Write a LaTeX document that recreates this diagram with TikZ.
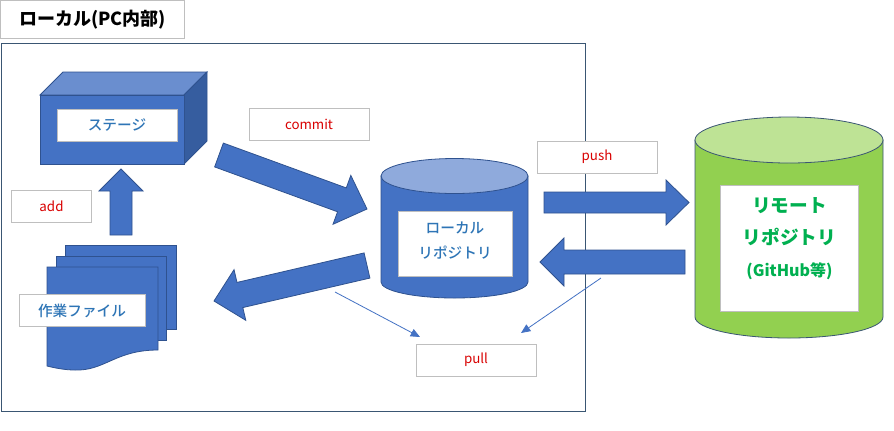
\documentclass[tikz,border=0pt]{standalone}
\usepackage{fontspec}
\usepackage{xcolor}
\usepackage{tikz}
\setmainfont{Noto Sans CJK JP}
\newfontface\medjp{Noto Sans CJK JP Medium}
\usetikzlibrary{calc,positioning,arrows.meta}
\definecolor{shapeblue}{HTML}{4472C4}
\definecolor{edgeblue}{HTML}{2F528F}
\definecolor{topblue}{HTML}{6A8ECF}
\definecolor{sideblue}{HTML}{365D9F}
\definecolor{capblue}{HTML}{8FAADC}
\definecolor{textblue}{HTML}{2E75B6}
\definecolor{shapegreen}{HTML}{92D050}
\definecolor{capgreen}{HTML}{BEE395}
\definecolor{textgreen}{HTML}{00B050}
\definecolor{framecolor}{HTML}{3A5673}
\definecolor{boxgray}{HTML}{BFBFBF}
\tikzset{
    labelbox/.style={
        rectangle,
        draw=boxgray, line width=0.75pt,
        fill=white,
        minimum height=24pt,
        inner sep=0pt,
        align=center
    },
    cmdbox/.style={
        labelbox,
        text=red!85!black,
        minimum width=90pt,
        font={\fontsize{10pt}{11}\selectfont}
    },
    namebox/.style={
        labelbox,
        text=textblue,
        font={\fontsize{11pt}{19}\selectfont\medjp}
    },
    blockshape/.style={draw=edgeblue, fill=shapeblue, line width=0.6pt},
    thinline/.style={draw=shapeblue, line width=0.6pt, -{Triangle[length=7pt,width=6pt]}},
}
% from, to, half shaft, half head, head length (all in px)
\newcommand{\blockarrow}[5]{
    \coordinate (hb) at ($(#2)!#5*0.75pt!(#1)$);
    \draw[blockshape] ($(#1)!#3*0.75pt!90:(#2)$) -- ($(hb)!#3*0.75pt!90:(#2)$)
        -- ($(hb)!#4*0.75pt!90:(#2)$) -- (#2)
        -- ($(hb)!#4*0.75pt!-90:(#2)$) -- ($(hb)!#3*0.75pt!-90:(#2)$)
        -- ($(#1)!#3*0.75pt!-90:(#2)$) -- cycle;
}
\begin{document}
\begin{tikzpicture}[x=0.75pt,y=-0.75pt]
    \useasboundingbox (0,0) rectangle (894,430);
    \fill[white] (0,0) rectangle (894,430);

    % Title and frame
    \node[labelbox, minimum width=137.5pt, minimum height=28pt,
          font={\fontsize{13.5pt}{16}\selectfont\bfseries}] (title) at (92.5,19.5) {ローカル(PC内部)};
    \draw[framecolor, line width=0.65pt] (1,43.5) rectangle (585,411);

    % Stage box
    \draw[blockshape, fill=topblue] (40,95) -- (63,72) -- (207,72) -- (184,95) -- cycle;
    \draw[blockshape, fill=sideblue] (184,95) -- (207,72) -- (207,141) -- (184,164) -- cycle;
    \draw[blockshape] (40,95) rectangle (184,164);
    \node[namebox, minimum width=90pt] (stage) at (117,125) {ステージ};

    % Working files
    \draw[blockshape] (65,245) rectangle (176,329);
    \draw[blockshape] (56,256) rectangle (166,340);
    \draw[blockshape] (47,267) -- (158,267) -- (158,350)
        .. controls (115,350) and (105,371) .. (75,370)
        .. controls (65,370) and (55,368) .. (47,366) -- cycle;
    \node[namebox, minimum width=94.5pt] (files) at (82,310.5) {作業ファイル};

    % Local repository
    \draw[blockshape] (381,176) -- (381,282) arc[start angle=180, end angle=0, x radius=73.5, y radius=16] -- (528,176) -- cycle;
    \draw[blockshape, fill=capblue] (454.5,176) ellipse[x radius=73.5, y radius=17.5];
    \node[namebox, minimum width=85.5pt, minimum height=48.75pt] (localrepo) at (455,243.5) {ローカル\\リポジトリ\rule[-5pt]{0pt}{0pt}};

    % Remote repository
    \draw[blockshape, draw=framecolor, fill=shapegreen] (695,140) -- (695,317) arc[start angle=180, end angle=0, x radius=94, y radius=21] -- (883,140) -- cycle;
    \draw[blockshape, draw=framecolor, fill=capgreen] (789,140) ellipse[x radius=94, y radius=23];
    \node[namebox, text=textgreen, minimum width=104pt, minimum height=95pt,
          font={\fontsize{14pt}{24}\selectfont\bfseries}] (remoterepo) at (789.5,248.5)
        {リモート\\リポジトリ\\{\fontsize{12pt}{24}\selectfont (GitHub等)\rule[-17pt]{0pt}{0pt}}};

    % Command labels
    \node[cmdbox, minimum width=60.5pt] (add) at (51.5,206) {add};
    \node[cmdbox] (commit) at (309,124) {commit};
    \node[cmdbox] (push) at (597,157) {push};
    \node[cmdbox] (pull) at (476,360) {pull};

    % Block arrows
    \coordinate (addS) at (121,235);
    \coordinate (addE) at (121,169);
    \coordinate (commitS) at (219,155);
    \coordinate (commitE) at (367,209);
    \coordinate (backS) at (367,265.5);
    \coordinate (backE) at (214,301);
    \coordinate (pushS) at (544,202.5);
    \coordinate (pushE) at (689,202.5);
    \coordinate (fetchS) at (685,262);
    \coordinate (fetchE) at (540,262);
    \blockarrow{addS}{addE}{11}{22}{22}
    \blockarrow{commitS}{commitE}{12.7}{26}{26.7}
    \blockarrow{backS}{backE}{12.9}{26}{26.6}
    \blockarrow{pushS}{pushE}{10.5}{22.5}{23}
    \blockarrow{fetchS}{fetchE}{12}{24}{24}

    % Thin arrows to pull
    \coordinate (pullA) at (335,292);
    \coordinate (pullB) at (420,337);
    \coordinate (pullC) at (601,278);
    \coordinate (pullD) at (521,333);
    \draw[thinline] (pullA) -- (pullB);
    \draw[thinline] (pullC) -- (pullD);
\end{tikzpicture}
\end{document}
